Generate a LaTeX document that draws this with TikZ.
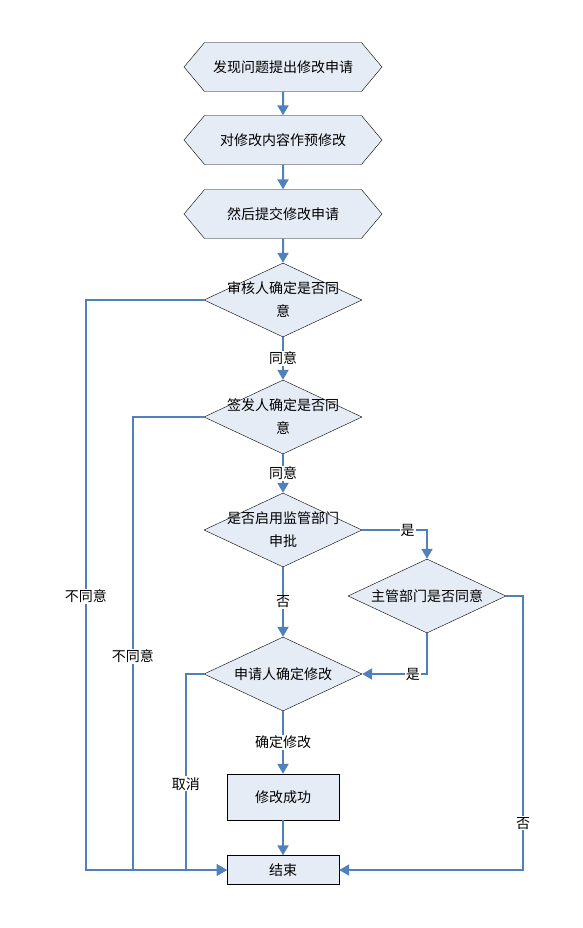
\documentclass[tikz,border=0pt]{standalone}
\usepackage{fontspec}
\newfontfamily\cjk{Noto Sans CJK SC}
\usetikzlibrary{shapes.geometric,shapes.symbols,arrows.meta}
\definecolor{flowline}{RGB}{79,129,189}
\definecolor{flowfill}{RGB}{230,236,246}

\begin{document}
\begin{tikzpicture}[x=1pt,y=-1pt,
  font=\cjk\fontsize{14}{23}\selectfont,
  hexbox/.style={signal,signal to=east and west,signal pointer angle=100,draw=black,fill=flowfill,minimum width=198pt,minimum height=49pt,inner sep=0pt},
  decision/.style={diamond,draw=black,fill=flowfill,minimum width=158pt,minimum height=74pt,inner sep=0pt},
  procbox/.style={rectangle,draw=black,fill=flowfill,minimum width=112pt,minimum height=46pt},
  flow/.style={draw=flowline,line width=2pt,-{Triangle[width=11pt,length=10pt]}},
  lbl/.style={fill=white,inner sep=1pt}]
\useasboundingbox (0,0) rectangle (582,928);
\node[hexbox] (find) at (283,67) {发现问题提出修改申请};
\node[hexbox] (pre) at (283,140) {对修改内容作预修改};
\node[hexbox] (submit) at (283,214) {然后提交修改申请};
\node[decision,label={[align=center]center:{审核人确定是否同\\意}}] (audit) at (283,300) {};
\node[decision,label={[align=center]center:{签发人确定是否同\\意}}] (sign) at (283,417) {};
\node[decision,label={[align=center]center:{是否启用监管部门\\申批}}] (super) at (283,530) {};
\node[decision,label=center:主管部门是否同意] (dept) at (427,596) {};
\node[decision,label=center:申请人确定修改] (apply) at (283,674) {};
\node[procbox] (done) at (283,797) {修改成功};
\node[procbox,minimum height=29pt] (end) at (283,870) {结束};
% main line
\draw[flow] (find) -- (pre);
\draw[flow] (pre) -- (submit);
\draw[flow] (submit) -- (audit);
\draw[flow] (audit) -- node[lbl]{同意} (sign);
\draw[flow] (sign) -- node[lbl]{同意} (super);
\draw[flow] (super.east) -| node[lbl,pos=0.35]{是} (dept.north);
\draw[flow] (super) -- node[lbl]{否} (apply);
\draw[flow] (dept.south) |- node[lbl,pos=0.61]{是} (apply.east);
\draw[flow] (apply) -- node[lbl]{确定修改} (done);
\draw[flow] (done) -- (end);
% back to the end
\draw[flow] (dept.east) -- ++(17,0) |- node[lbl,pos=0.415]{否} (end.east);
\draw[flow] (audit.west) -- ++(-118,0) |- node[lbl,pos=0.26]{不同意} (end.west);
\draw[flow] (sign.west) -- ++(-71,0) |- node[lbl,pos=0.264]{不同意} (end.west);
\draw[flow] (apply.west) -- ++(-18,0) |- node[lbl,pos=0.28]{取消} (end.west);
\end{tikzpicture}
\end{document}
